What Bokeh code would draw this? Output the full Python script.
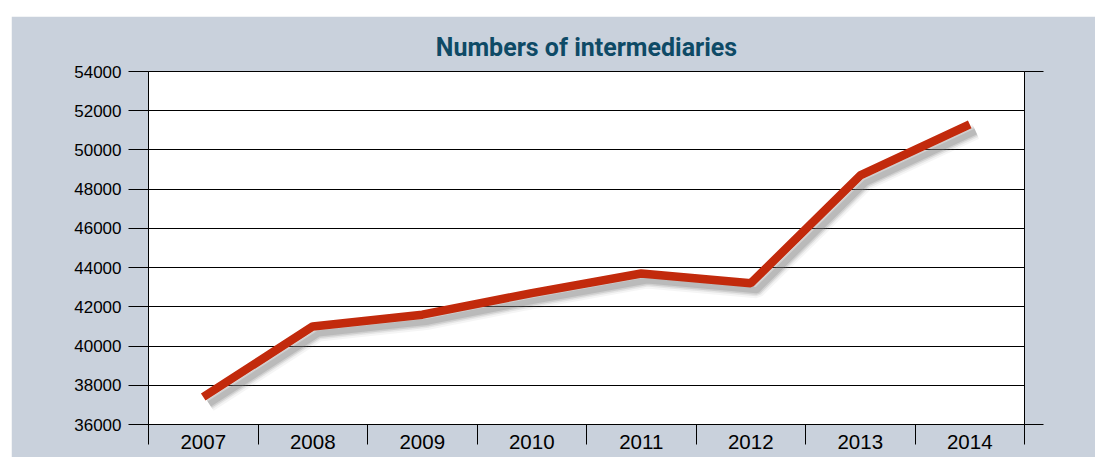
from bokeh.plotting import figure
from bokeh.models import FixedTicker, LinearAxis, Range1d, ColumnDataSource, Spacer
from bokeh.layouts import column, row
from bokeh.embed import file_html
from bokeh.resources import INLINE

# ---- data ----
years = ["2007", "2008", "2009", "2010", "2011", "2012", "2013", "2014"]
values = [37400, 41000, 41600, 42700, 43700, 43200, 48700, 51300]
y_ticks = [36000, 38000, 40000, 42000, 44000, 46000, 48000, 50000, 52000, 54000]
title_text = "Numbers of intermediaries"

LABEL_FONT = "Liberation Sans"
TITLE_FONT = "Roboto"
BG = "#C9D1DC"
LINE = "#C22A0C"
TITLE_COLOR = "#0E4A66"

W, H = 1084, 441
FL, FR, FT, FB = 137, 71, 55, 33
frame_w = W - FL - FR
frame_h = H - FT - FB

n = len(years)
centers = [i + 0.5 for i in range(n)]
bounds = [float(i) for i in range(n + 1)]
ymin, ymax = y_ticks[0], y_ticks[-1]

p = figure(width=W, height=H, x_range=Range1d(0, n), y_range=Range1d(ymin, ymax),
           output_backend="svg", toolbar_location=None,
           min_border_left=FL, min_border_right=FR, min_border_top=FT, min_border_bottom=FB,
           border_fill_color=BG, background_fill_color="white",
           outline_line_color="black", outline_line_width=1)

p.title.text = title_text
p.title.align = "center"
p.title.text_font = TITLE_FONT
p.title.text_font_size = "25px"
p.title.text_font_style = "bold"
p.title.text_color = TITLE_COLOR
p.title.standoff = 20

# shadow offset in data units (a few pixels right/down)
dx = 6 * n / frame_w
dy = 7 * (ymax - ymin) / frame_h
shadow = ColumnDataSource(dict(x=[c + dx for c in centers], y=[v - dy for v in values]))
src = ColumnDataSource(dict(x=centers, y=values))

for w, a in [(16, 0.08), (12, 0.13), (9, 0.2), (6, 0.25)]:
    p.line("x", "y", source=shadow, line_color="#7a7a7a", line_alpha=a, line_width=w)
p.line("x", "y", source=src, line_color=LINE, line_width=8.5)

# grid
p.xgrid.visible = False
p.ygrid.ticker = FixedTicker(ticks=y_ticks)
p.ygrid.grid_line_color = "black"
p.ygrid.grid_line_width = 1

# y axis
ya = p.yaxis[0]
ya.ticker = FixedTicker(ticks=y_ticks)
ya.major_tick_out = 20
ya.major_tick_in = 0
ya.minor_tick_out = 0
ya.minor_tick_in = 0
ya.axis_line_color = "black"
ya.major_tick_line_color = "black"
ya.major_label_text_font = LABEL_FONT
ya.major_label_text_font_size = "17px"
ya.major_label_text_color = "black"
ya.major_label_standoff = 7

# x axis
xa = p.xaxis[0]
xa.ticker = FixedTicker(ticks=centers, minor_ticks=bounds)
xa.major_label_overrides = {c: y for c, y in zip(centers, years)}
xa.major_tick_out = 0
xa.major_tick_in = 0
xa.minor_tick_out = 20
xa.minor_tick_in = 0
xa.minor_tick_line_color = "black"
xa.axis_line_color = "black"
xa.major_label_text_font = LABEL_FONT
xa.major_label_text_font_size = "20.5px"
xa.major_label_text_color = "black"
xa.major_label_standoff = -10

# right axis: short extensions of top and bottom lines
ra = LinearAxis(ticker=FixedTicker(ticks=[ymin, ymax]))
ra.major_tick_out = 19
ra.major_tick_in = 0
ra.minor_tick_out = 0
ra.minor_tick_in = 0
ra.major_label_text_color = None
ra.axis_line_color = "black"
p.add_layout(ra, "right")

layout = column(Spacer(height=16), row(Spacer(width=11), p), spacing=0)

open("out.html", "w").write(file_html(layout, INLINE))
